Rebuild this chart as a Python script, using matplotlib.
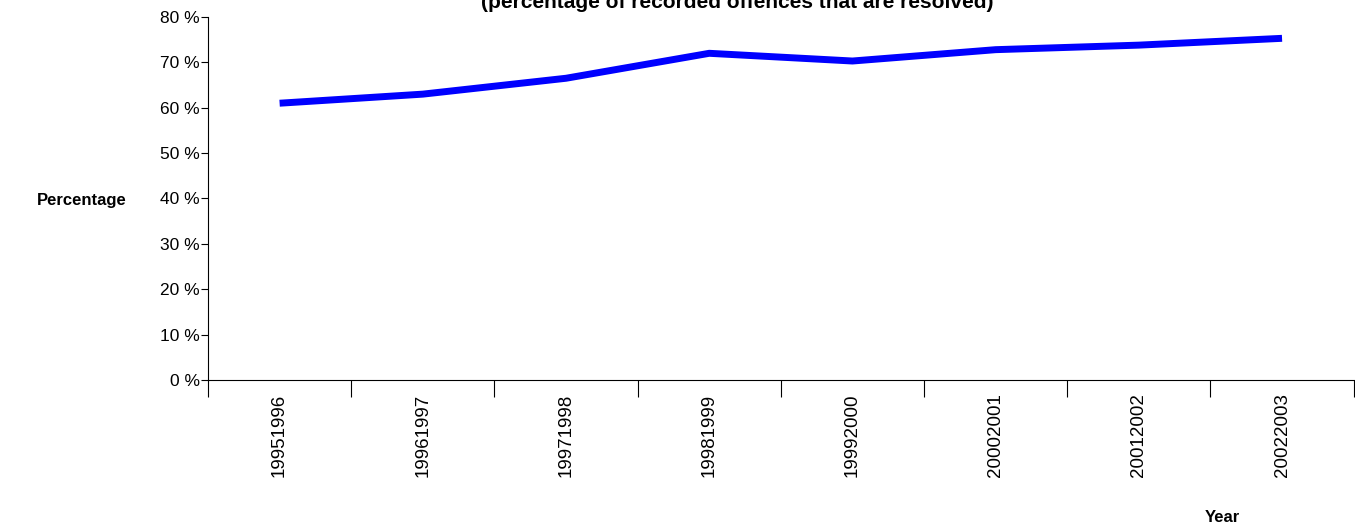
import matplotlib
matplotlib.use("Agg")
import matplotlib.pyplot as plt

plt.rcParams["font.family"] = ["Liberation Sans", "DejaVu Sans"]

years = ["19951996", "19961997", "19971998", "19981999",
         "19992000", "20002001", "20012002", "20022003"]
values = [61.0, 63.0, 66.5, 72.0, 70.3, 72.8, 73.8, 75.3]

fig = plt.figure(figsize=(13.55, 5.28), dpi=100)
ax = fig.add_axes([208 / 1355, 1 - 380 / 528, 1 - 208 / 1355 - 0.001, (380 - 17) / 528])

x = list(range(len(years)))
ax.plot(x, values, color="#0000ff", linewidth=5, solid_capstyle="butt")

ax.set_xlim(-0.5, len(years) - 0.5)
ax.set_ylim(0, 80)
ax.set_yticks(range(0, 81, 10))
ax.set_yticklabels([f"{v} %" for v in range(0, 81, 10)], fontsize=12.5)
ax.tick_params(axis="y", length=5, direction="out", pad=1)

ax.set_xticks([i - 0.5 for i in range(len(years) + 1)])
ax.set_xticklabels([])
ax.tick_params(axis="x", length=12, direction="out")
for i, lab in enumerate(years):
    ax.text(i, -3, lab, rotation=90, ha="center", va="top", fontsize=13.5)

for s in ("top", "right"):
    ax.spines[s].set_visible(False)

fig.text(37 / 1355, 1 - 201 / 528, "Percentage", fontweight="bold", fontsize=12, va="center")
fig.text(1222 / 1355, 1 - 518 / 528, "Year", fontweight="bold", fontsize=12, ha="center", va="center")
fig.text(737 / 1355, 1 - 3 / 528, "(percentage of recorded offences that are resolved)",
         fontweight="bold", fontsize=15, ha="center", va="center")

fig.savefig("out.png", dpi=100)
